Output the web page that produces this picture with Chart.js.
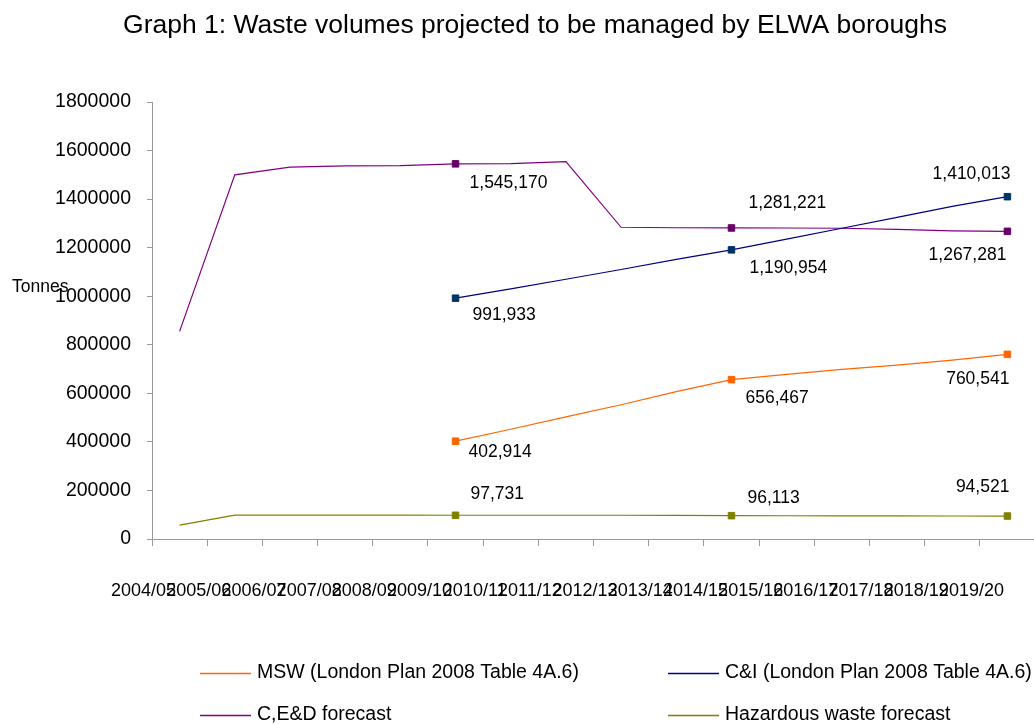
<!DOCTYPE html>
<html>
<head>
<meta charset="utf-8">
<script src="https://cdn.jsdelivr.net/npm/chart.js@4.4.0/dist/chart.umd.min.js"></script>
<style>
html,body{margin:0;padding:0;background:#fff;overflow:hidden;width:1034px;height:724px}
#wrap{position:absolute;left:0;top:0;width:1070px;height:724px}
</style>
</head>
<body>
<div id="wrap"><canvas id="c" width="1070" height="724"></canvas></div>
<script>
// ---- data ----
const years = ['2004/05','2005/06','2006/07','2007/08','2008/09','2009/10','2010/11','2011/12','2012/13','2013/14','2014/15','2015/16','2016/17','2017/18','2018/19','2019/20'];
const mswValues = [null,null,null,null,null,402914,452000,503000,553000,607000,656467,678000,699000,716000,737000,760541];
const ciValues  = [null,null,null,null,null,991933,1030000,1070000,1110000,1152000,1190954,1235000,1280000,1325000,1370000,1410013];
const cedValues = [855000,1500000,1532000,1537000,1538000,1545170,1546000,1554000,1284000,1282000,1281221,1281000,1280000,1275000,1269000,1267281];
const hazValues = [57000,98000,98000,98000,98000,97731,97800,97800,97800,97700,96113,95700,95300,95000,94700,94521];
const seriesNames = ['MSW (London Plan 2008 Table 4A.6)','C&I (London Plan 2008 Table 4A.6)','C,E&D forecast','Hazardous waste forecast'];
const yTickValues = [0,200000,400000,600000,800000,1000000,1200000,1400000,1600000,1800000];
const markedIdx = [5,10,15];
const chartTitle = 'Graph 1: Waste volumes projected to be managed by ELWA boroughs';
const yTitle = 'Tonnes';

// ---- styles ----
const FONT = '"Liberation Sans", Arial, sans-serif';
const lineColors   = ['#FF6600','#000080','#800080','#808000'];
const markerColors = ['#FF6600','#003366','#660066','#808000'];
// label placement per dataset for marked points: [dx, dy, align]
const labelPlace = [
  [[13,11,'left'],[14,19,'left'],[2,25,'right']],
  [[17,17,'left'],[18,18,'left'],[3,-23,'right']],
  [[14,19,'left'],[17,-25,'left'],[-1,24,'right']],
  [[15,-21,'left'],[16,-17,'left'],[2,-29,'right']]
];

function mk(i, vals){
  return {
    label: seriesNames[i], data: vals,
    borderColor: lineColors[i], backgroundColor: markerColors[i],
    borderWidth: 1.2, tension: 0, spanGaps: false,
    pointStyle: 'rect',
    pointRadius: c => markedIdx.includes(c.dataIndex) ? 4.6 : 0,
    pointBorderColor: markerColors[i], pointBackgroundColor: markerColors[i],
    pointBorderWidth: 1, pointHoverRadius: 0
  };
}

const fmt = v => v.toLocaleString('en-GB');

const decor = {
  id: 'decor',
  afterDraw(chart){
    const ctx = chart.ctx;
    ctx.save();
    ctx.fillStyle = '#000';
    // title
    ctx.font = '26.5px ' + FONT;
    ctx.textAlign = 'center'; ctx.textBaseline = 'middle';
    ctx.fillText(chartTitle, 535, 26);
    // y title
    ctx.font = '17.5px ' + FONT;
    ctx.textAlign = 'left';
    ctx.fillText(yTitle, 12, 287);
    // data labels
    ctx.font = '17.5px ' + FONT;
    chart.data.datasets.forEach((ds, di) => {
      const meta = chart.getDatasetMeta(di);
      markedIdx.forEach((idx, k) => {
        const p = meta.data[idx];
        const [dx, dy, al] = labelPlace[di][k];
        ctx.textAlign = al;
        ctx.fillText(fmt(ds.data[idx]), p.x + dx, p.y + dy);
      });
    });
    // legend
    ctx.font = '19.5px ' + FONT;
    ctx.textAlign = 'left';
    const cols = [200, 668], rows = [673, 715];
    chart.data.datasets.forEach((ds, di) => {
      const x = cols[di % 2], y = rows[Math.floor(di / 2)];
      ctx.strokeStyle = ds.borderColor; ctx.lineWidth = 1.5;
      ctx.beginPath(); ctx.moveTo(x, y + 0.5); ctx.lineTo(x + 51, y + 0.5); ctx.stroke();
      ctx.fillText(ds.label, x + 57, y);
    });
    ctx.restore();
  }
};

new Chart(document.getElementById('c'), {
  type: 'line',
  data: {
    labels: years,
    datasets: [mk(0, mswValues), mk(1, ciValues), mk(2, cedValues), mk(3, hazValues)]
  },
  options: {
    responsive: false, animation: false,
    layout: { padding: { left: 0, right: 35, top: 102, bottom: 105 } },
    plugins: { legend: { display: false }, title: { display: false }, tooltip: { enabled: false } },
    scales: {
      x: {
        type: 'category', offset: true,
        grid: { offset: true, drawOnChartArea: false, drawTicks: true, tickLength: 7, color: '#999' },
        border: { color: '#999', width: 1 },
        ticks: { font: { family: FONT, size: 18 }, color: '#000', padding: 34, labelOffset: -36, maxRotation: 0, minRotation: 0, autoSkip: false },
        afterFit(s){ s.height = 80; s.paddingLeft = 0; s.paddingRight = 0; }
      },
      y: {
        min: 0, max: 1800000,
        afterBuildTicks(s){ s.ticks = yTickValues.map(v => ({ value: v })); },
        ticks: { font: { family: FONT, size: 19.5 }, color: '#000', padding: 16, callback: v => String(v) },
        grid: { drawOnChartArea: false, drawTicks: true, tickLength: 5, color: '#999' },
        border: { color: '#999', width: 1 },
        afterFit(s){ s.width = 152; s.paddingTop = 0; s.paddingBottom = 0; }
      }
    }
  },
  plugins: [decor]
});
</script>
</body>
</html>
